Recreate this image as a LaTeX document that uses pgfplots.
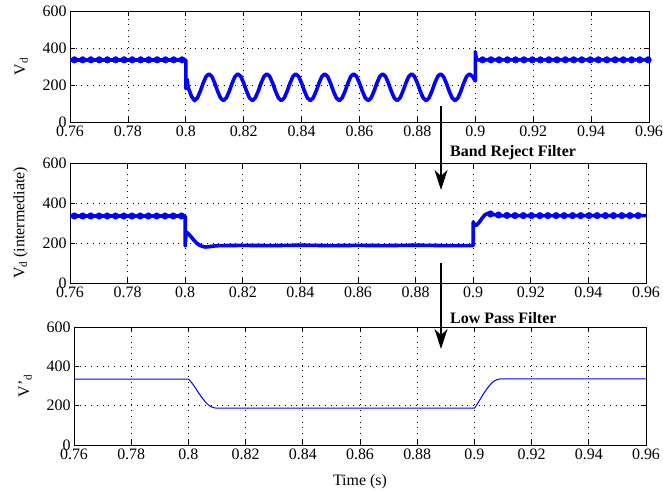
\documentclass[border=0pt]{standalone}
\usepackage{pgfplots}
\pgfplotsset{compat=1.18}
\usepackage{fontspec}
\setmainfont{Liberation Serif}
\usetikzlibrary{arrows.meta}
\definecolor{mblue}{RGB}{0,0,255}
\pgfplotsset{
  mystyle/.style={
    scale only axis,
    xmin=0.76, xmax=0.96, ymin=0, ymax=600,
    xtick={0.76,0.78,0.80,0.82,0.84,0.86,0.88,0.90,0.92,0.94,0.96},
    xticklabels={0.76,0.78,0.8,0.82,0.84,0.86,0.88,0.9,0.92,0.94,0.96},
    ytick={0,200,400,600},
    grid=major,
    major grid style={black, line width=0.7bp, dash pattern=on 0.7bp off 5bp},
    axis line style={line width=0.9bp},
    every tick/.style={black, line width=0.8bp},
    major tick length=5bp,
    tick align=inside,
    tick label style={font=\fontsize{16}{16}\selectfont},
    /pgf/number format/assume math mode=true,
    ylabel style={font=\fontsize{16}{18}\selectfont, inner sep=0pt, anchor=south},
    xlabel style={font=\fontsize{16}{18}\selectfont, inner sep=0pt, anchor=center},
  }
}
\begin{document}
\begin{tikzpicture}
\useasboundingbox (0,0) rectangle (663bp,-493bp);
% ---------- top ----------
\begin{axis}[mystyle, width=579bp, height=111bp, at={(70bp,-11bp)}, anchor=north west,
  ylabel={V\textsubscript{d}}, ylabel style={at={(axis description cs:-0.0725,0.5)}}]
\addplot[mblue, line width=3.6bp, line join=round] coordinates {
(0.76,335)(0.8,335)(0.8,180)(0.8004,232)(0.8008,188)(0.802,138)
(0.803,116)(0.804,130)(0.805,166)(0.806,210)(0.807,246)(0.808,260)(0.809,246)(0.810,210)(0.811,166)(0.812,130)
(0.813,116)(0.814,130)(0.815,166)(0.816,210)(0.817,246)(0.818,260)(0.819,246)(0.820,210)(0.821,166)(0.822,130)
(0.823,116)(0.824,130)(0.825,166)(0.826,210)(0.827,246)(0.828,260)(0.829,246)(0.830,210)(0.831,166)(0.832,130)
(0.833,116)(0.834,130)(0.835,166)(0.836,210)(0.837,246)(0.838,260)(0.839,246)(0.840,210)(0.841,166)(0.842,130)
(0.843,116)(0.844,130)(0.845,166)(0.846,210)(0.847,246)(0.848,260)(0.849,246)(0.850,210)(0.851,166)(0.852,130)
(0.853,116)(0.854,130)(0.855,166)(0.856,210)(0.857,246)(0.858,260)(0.859,246)(0.860,210)(0.861,166)(0.862,130)
(0.863,116)(0.864,130)(0.865,166)(0.866,210)(0.867,246)(0.868,260)(0.869,246)(0.870,210)(0.871,166)(0.872,130)
(0.873,116)(0.874,130)(0.875,166)(0.876,210)(0.877,246)(0.878,260)(0.879,246)(0.880,210)(0.881,166)(0.882,130)
(0.883,116)(0.884,130)(0.885,166)(0.886,210)(0.887,246)(0.888,260)(0.889,246)(0.890,210)(0.891,166)(0.892,130)
(0.893,116)(0.894,130)(0.895,166)(0.896,210)(0.897,246)(0.898,260)(0.899,246)(0.8996,232)
(0.9,222)(0.9,380)(0.9004,336)(0.96,336)
};
\addplot[mblue, only marks, mark=*, mark size=3.3bp] coordinates {
(0.7615,336)(0.7644,336)(0.7672,336)(0.7701,336)(0.7729,336)(0.7758,336)(0.7787,336)
(0.7815,336)(0.7844,336)(0.7872,336)(0.7901,336)(0.7930,336)(0.7958,336)(0.7987,336)
(0.9025,336)(0.9054,336)(0.9082,336)(0.9111,336)(0.9139,336)(0.9168,336)(0.9197,336)
(0.9225,336)(0.9254,336)(0.9282,336)(0.9311,336)(0.9340,336)(0.9368,336)(0.9397,336)
(0.9425,336)(0.9454,336)(0.9483,336)(0.9511,336)(0.9540,336)(0.9568,336)(0.9597,336)
};
\end{axis}
% ---------- middle ----------
\begin{axis}[mystyle, width=576bp, height=120bp, at={(70bp,-163bp)}, anchor=north west,
  ylabel={V\textsubscript{d} (intermediate)}, ylabel style={at={(axis description cs:-0.0729,0.5)}}]
\addplot[mblue, line width=3.6bp, line join=round] coordinates {
(0.76,335)(0.8,335)(0.8,185)(0.8003,255)(0.801,248)(0.802,232)(0.803,214)(0.804,199)(0.805,189)
(0.806,183)(0.807,180)(0.808,181)(0.810,185)(0.812,187)(0.82,188)(0.83,187)(0.84,189)(0.85,187)
(0.86,188)(0.87,187)(0.88,189)(0.89,187)(0.9,187)(0.9,305)(0.9004,292)(0.901,288)(0.902,302)
(0.903,322)(0.904,340)(0.905,348)(0.906,346)(0.908,340)(0.91,337)(0.96,337)
};
\addplot[mblue, only marks, mark=*, mark size=3.3bp] coordinates {
(0.7615,335)(0.7644,335)(0.7672,335)(0.7701,335)(0.7729,335)(0.7758,335)(0.7787,335)
(0.7815,335)(0.7844,335)(0.7872,335)(0.7901,335)(0.7930,335)(0.7958,335)(0.7987,335)
(0.9060,345)(0.9088,340)(0.9117,338)(0.9145,337)(0.9174,337)(0.9202,337)(0.9231,337)
(0.9259,337)(0.9288,337)(0.9316,337)(0.9345,337)(0.9373,337)(0.9402,337)(0.9430,337)
(0.9459,337)(0.9487,337)(0.9516,337)(0.9544,337)(0.9573,337)(0.9601,337)
};
\end{axis}
% ---------- bottom ----------
\begin{axis}[mystyle, width=572bp, height=118bp, at={(74bp,-327bp)}, anchor=north west,
  ylabel={V'\textsubscript{d}}, ylabel style={at={(axis description cs:-0.0734,0.5)}},
  xlabel={Time (s)}, xlabel style={at={(axis description cs:0.5,-0.3136)}}]
\addplot[mblue, line width=1bp, line join=round] coordinates {
(0.76,335)(0.8,335)(0.801,320)(0.802,300)(0.803,278)(0.804,256)(0.805,236)(0.806,218)
(0.807,204)(0.808,194)(0.809,189)(0.81,187)(0.85,187)(0.9,187)(0.901,208)(0.902,232)
(0.903,256)(0.904,278)(0.905,298)(0.906,314)(0.907,326)(0.908,333)(0.909,336)(0.96,336)
};
\end{axis}
% ---------- annotations ----------
\node[anchor=west, inner sep=0pt, font=\bfseries\fontsize{16}{16}\selectfont] at (450bp,-153bp) {Band Reject Filter};
\node[anchor=west, inner sep=0pt, font=\bfseries\fontsize{16}{16}\selectfont] at (450bp,-318bp) {Low Pass Filter};
\draw[black, line width=1.1bp, -{Stealth[length=20bp,width=13bp,inset=6bp]}] (441bp,-106bp) -- (441bp,-190bp);
\draw[black, line width=1.1bp, -{Stealth[length=20bp,width=13bp,inset=6bp]}] (441bp,-263bp) -- (441bp,-349bp);
\end{tikzpicture}
\end{document}
